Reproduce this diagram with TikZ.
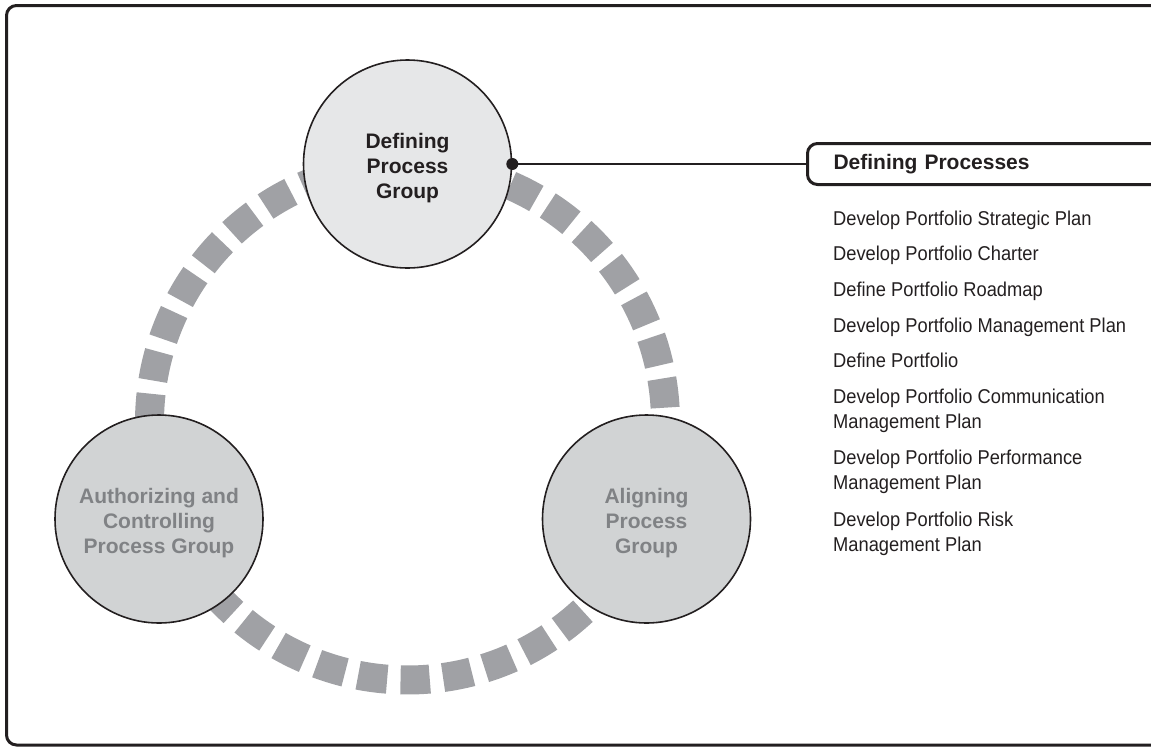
\documentclass[tikz,border=0pt]{standalone}
\usepackage{fontspec}
\setmainfont{Liberation Sans}
\newfontfamily\listfont[FakeStretch=0.915]{Liberation Sans}
\usetikzlibrary{calc}
\definecolor{ink}{HTML}{231F20}
\definecolor{graytxt}{HTML}{808285}
\definecolor{ringgray}{HTML}{A0A1A5}
\definecolor{fillA}{HTML}{E6E7E8}
\definecolor{fillB}{HTML}{D1D3D4}
\begin{document}
\begin{tikzpicture}[x=1pt,y=-1pt,
  frame/.style={draw=ink,line width=3pt,rounded corners=10pt},
  ringdash/.style={draw=ringgray,line width=29pt},
  groupcirc/.style={circle,draw=ink,line width=1.6pt,minimum size=208pt,inner sep=0pt},
  grouplbl/.style={align=center,font=\fontsize{21}{25}\selectfont\bfseries,inner sep=0pt,yshift=-4.5pt},
  hdrbox/.style={draw=ink,line width=3pt,rounded corners=10pt,minimum height=41pt,text width=330pt,align=left,inner xsep=26pt,inner ysep=0pt,text height=15pt,text depth=5pt,font=\fontsize{21}{25}\selectfont\bfseries,text=ink,anchor=west},
  listitem/.style={anchor=north west,inner sep=0pt,align=left,font=\listfont\fontsize{20}{25.5}\selectfont,text=ink},
  connector/.style={draw=ink,line width=1.5pt},
  dot/.style={circle,fill=ink,inner sep=0pt,minimum size=12pt}]
\useasboundingbox (0,0) rectangle (1151,748);
\clip (0,0) rectangle (1151,748);
% outer frame
\draw[frame] (6.5,5.5) rectangle (1180,745);
% dashed ring
\coordinate (ringc) at (407.5,422);
\foreach \k in {0,...,37}{
  \pgfmathsetmacro{\a}{88.3+\k*9.4737}
  \draw[ringdash] ($(ringc)+(\a-3.25:258)$) arc[start angle=\a-3.25, end angle=\a+3.25, radius=258];
}
% process group circles
\node[groupcirc,fill=fillA,label={[grouplbl,text=ink]center:Defining\\Process\\Group}] (def) at (407.5,164) {};
\node[groupcirc,fill=fillB,label={[grouplbl,text=graytxt]center:Authorizing and\\Controlling\\Process Group}] (auth) at (159,519) {};
\node[groupcirc,fill=fillB,label={[grouplbl,text=graytxt]center:Aligning\\Process\\Group}] (align) at (646.5,519) {};
% header box and connector
\node[hdrbox] (hdr) at (806,164) {Defining Processes};
\node[dot] (pin) at (def.east) {};
\draw[connector] (pin.center) -- (hdr.west);
% process list
\node[listitem] (p1) at (833,207.15) {\strut Develop Portfolio Strategic Plan};
\node[listitem] (p2) at (833,242.75) {\strut Develop Portfolio Charter};
\node[listitem] (p3) at (833,278.35) {\strut Define Portfolio Roadmap};
\node[listitem] (p4) at (833,313.95) {\strut Develop Portfolio Management Plan};
\node[listitem] (p5) at (833,349.55) {\strut Define Portfolio};
\node[listitem] (p6) at (833,385.15) {\strut Develop Portfolio Communication\\Management Plan};
\node[listitem] (p7) at (833,446.15) {\strut Develop Portfolio Performance\\Management Plan};
\node[listitem] (p8) at (833,508.15) {\strut Develop Portfolio Risk\\Management Plan};
\end{tikzpicture}
\end{document}
